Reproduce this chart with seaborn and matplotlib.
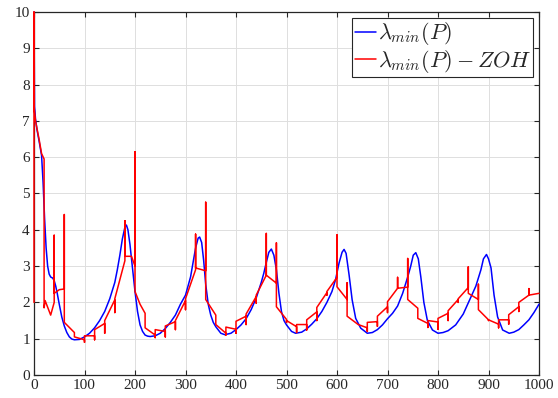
import numpy as np
import pandas as pd
import matplotlib
matplotlib.use("Agg")
import matplotlib.pyplot as plt
import seaborn as sns

# ---- data ----
blue_x = [0, 1, 3, 6, 10, 15, 18, 21, 24, 27, 30, 33, 37, 40, 43, 46, 50, 55, 60, 65,
          70, 75, 80, 90, 100, 110, 120, 130, 140, 150, 160, 165, 170, 175, 180, 183,
          186, 190, 195, 200, 205, 210, 215, 220, 225, 230, 240, 250, 260, 270, 280,
          290, 300, 310, 315, 320, 325, 328, 332, 336, 340, 345, 350, 355, 360, 370,
          378, 390, 400, 410, 420, 430, 440, 450, 455, 460, 465, 470, 475, 480, 485,
          490, 495, 500, 510, 518, 530, 540, 550, 560, 570, 580, 590, 597, 604, 610,
          614, 618, 624, 630, 637, 647, 660, 670, 680, 690, 700, 710, 720, 730, 740,
          746, 751, 756, 761, 766, 772, 779, 789, 800, 810, 820, 835, 850, 862, 875,
          885, 890, 896, 900, 905, 911, 918, 928, 941, 950, 960, 970, 980, 990, 1000]
blue_y = [10.0, 7.4, 7.05, 6.75, 6.45, 6.05, 5.3, 4.3, 3.5, 3.0, 2.78, 2.7, 2.67, 2.6, 2.45, 2.25, 1.95, 1.6, 1.35, 1.17,
          1.05, 0.99, 0.97, 0.98, 1.05, 1.15, 1.3, 1.5, 1.75, 2.1, 2.55, 2.9, 3.3, 3.75, 4.07, 4.13,
          4.0, 3.6, 2.95, 2.3, 1.75, 1.38, 1.2, 1.1, 1.07, 1.06, 1.08, 1.15, 1.28, 1.45, 1.65,
          1.95, 2.2, 2.7, 3.1, 3.5, 3.77, 3.8, 3.65, 3.15, 2.5, 1.95, 1.65, 1.45, 1.33, 1.15,
          1.11, 1.15, 1.25, 1.38, 1.55, 1.8, 2.12, 2.55, 2.8, 3.1, 3.38, 3.47, 3.3, 2.9, 2.25,
          1.75, 1.5, 1.38, 1.2, 1.15, 1.18, 1.27, 1.4, 1.55, 1.75, 2.0, 2.3, 2.62, 3.08, 3.38,
          3.46, 3.35, 2.75, 2.07, 1.56, 1.29, 1.15, 1.17, 1.25, 1.38, 1.55, 1.7, 1.9, 2.25, 2.7,
          3.0, 3.3, 3.37, 3.2, 2.7, 2.0, 1.5, 1.24, 1.15, 1.17, 1.22, 1.38, 1.68, 2.05, 2.45,
          2.9, 3.2, 3.32, 3.2, 2.95, 2.2, 1.6, 1.24, 1.15, 1.18, 1.25, 1.38, 1.52, 1.72, 1.95]

red_x = [0, 0, 0, 3, 10, 15, 20, 20,
         22, 33, 40, 40, 40,
         50, 60, 60, 60,
         80, 80,
         100, 100, 100,
         120, 120, 120,
         140, 140, 140,
         160, 160, 160,
         180, 180, 180,
         193, 200, 200, 200,
         210, 220, 220,
         240, 240, 240,
         260, 260, 260,
         280, 280, 280,
         300, 300, 300,
         320, 320, 320,
         340, 340, 340,
         360, 360, 360,
         380, 380, 380,
         400, 400, 400,
         420, 420, 420,
         440, 440, 440,
         460, 460, 460,
         480, 480, 480,
         500, 500, 500,
         520, 520, 520,
         540, 540, 540,
         560, 560, 560,
         580, 580, 580,
         600, 600, 600,
         620, 620, 620,
         642, 660, 660, 660,
         680, 680, 680,
         700, 700, 700,
         720, 720, 720,
         740, 740, 740,
         760, 760, 760,
         780, 780, 780,
         800, 800, 800,
         820, 820, 820,
         840, 840, 840,
         860, 860, 860,
         880, 880, 880,
         900, 900, 900,
         920, 920, 920,
         940, 940, 940,
         960, 960, 960,
         980, 980, 980,
         1000]
red_y = [2.0, 10.0, 7.4, 7.0, 6.5, 6.1, 5.95, 1.85,
         2.05, 1.65, 2.0, 3.85, 2.25,
         2.35, 2.37, 4.42, 1.45,
         1.17, 1.05,
         0.97, 0.9, 1.08,
         1.08, 0.97, 1.25,
         1.42, 1.15, 1.5,
         2.07, 1.72, 2.1,
         3.15, 4.25, 3.27,
         3.27, 3.0, 6.15, 2.3,
         1.95, 1.7, 1.3,
         1.1, 1.03, 1.25,
         1.2, 1.05, 1.35,
         1.47, 1.25, 1.5,
         2.05, 1.8, 2.1,
         2.9, 3.88, 2.95,
         2.87, 4.76, 2.08,
         1.65, 1.43, 1.39,
         1.15, 1.1, 1.32,
         1.26, 1.15, 1.48,
         1.62, 1.39, 1.68,
         2.16, 1.98, 2.2,
         2.75, 3.9, 2.75,
         2.53, 3.64, 1.88,
         1.53, 1.45, 1.5,
         1.33, 1.17, 1.39,
         1.39, 1.24, 1.52,
         1.74, 1.5, 1.86,
         2.27, 2.2, 2.3,
         2.69, 3.86, 2.43,
         2.08, 2.54, 1.62,
         1.39, 1.3, 1.2, 1.45,
         1.47, 1.34, 1.62,
         1.88, 1.72, 2.02,
         2.39, 2.69, 2.39,
         2.42, 3.21, 2.08,
         1.84, 1.62, 1.56,
         1.42, 1.31, 1.5,
         1.46, 1.26, 1.56,
         1.7, 1.5, 1.77,
         2.08, 2.0, 2.1,
         2.41, 2.98, 2.25,
         2.08, 2.5, 1.8,
         1.52, 1.5, 1.52,
         1.4, 1.3, 1.52,
         1.52, 1.4, 1.66,
         1.88, 1.75, 2.0,
         2.2, 2.38, 2.2,
         2.25]

x_ticks = list(range(0, 1001, 100))
y_ticks = list(range(0, 11, 1))
labels = [r'$\lambda_{min}(P)$', r'$\lambda_{min}(P) - ZOH$']

# ---- style ----
sns.set_style("whitegrid")
plt.rcParams['font.family'] = ['Liberation Serif', 'DejaVu Serif']
plt.rcParams['mathtext.fontset'] = 'cm'

fig = plt.figure(figsize=(5.58, 3.98), dpi=100)
ax = fig.add_axes([34/558, 1 - 375/398, (539-34)/558, (375-12)/398])

df_b = pd.DataFrame({'x': blue_x, 'y': blue_y})
df_r = pd.DataFrame({'x': red_x, 'y': red_y})

sns.lineplot(data=df_b, x='x', y='y', ax=ax, color='#0000ff', linewidth=1.1,
             sort=False, estimator=None, label=labels[0])
sns.lineplot(data=df_r, x='x', y='y', ax=ax, color='#ff0000', linewidth=1.1,
             sort=False, estimator=None, label=labels[1])
for ln in ax.get_lines():
    ln.set_clip_on(False)
    ln.set_zorder(3)

ax.set_xlim(0, 1000)
ax.set_ylim(0, 10)
ax.set_xticks(x_ticks)
ax.set_yticks(y_ticks)
ax.set_xlabel('')
ax.set_ylabel('')
ax.grid(True, color='#dedede', linewidth=0.7)
ax.set_facecolor('white')
for s in ax.spines.values():
    s.set_visible(True)
    s.set_color('#262626')
    s.set_linewidth(0.9)
    s.set_zorder(2.5)
ax.tick_params(axis='both', which='both', direction='in', length=3.5, width=0.8,
               top=True, right=True, bottom=True, left=True,
               labelsize=11, colors='#262626', pad=3)

leg = ax.legend(loc='upper right', fontsize=16, frameon=True, fancybox=False,
                edgecolor='#262626', framealpha=1, handlelength=0.95, handletextpad=0.08,
                borderpad=0.1, labelspacing=0.02, borderaxespad=0.28)
leg.get_frame().set_linewidth(0.8)
leg.set_zorder(5)

fig.savefig('out.png', dpi=100)
